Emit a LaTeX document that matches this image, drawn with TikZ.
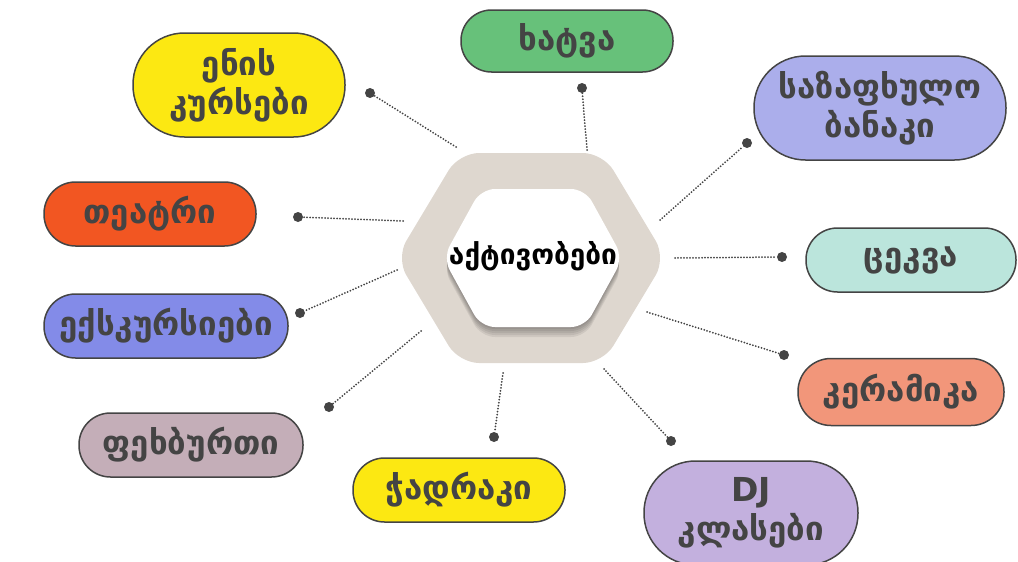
\documentclass[tikz,border=0pt]{standalone}
\usepackage{fontspec}
\setmainfont{DejaVu Sans}
\definecolor{ink}{RGB}{68,68,68}
\definecolor{hexsand}{RGB}{222,215,207}
\definecolor{cgreen}{RGB}{103,193,122}
\definecolor{cyellow}{RGB}{252,232,18}
\definecolor{clavender}{RGB}{171,174,235}
\definecolor{corange}{RGB}{242,86,34}
\definecolor{cmint}{RGB}{187,229,220}
\definecolor{cperi}{RGB}{131,139,232}
\definecolor{csalmon}{RGB}{242,150,122}
\definecolor{cmauve}{RGB}{196,174,184}
\definecolor{clilac}{RGB}{195,176,222}

\begin{document}
\begin{tikzpicture}[x=1pt,y=-1pt,
    pill/.style={draw=ink,line width=1.5pt,rounded corners=31.5pt,minimum height=64pt,
        text=ink,font=\bfseries\fontsize{33}{39}\selectfont,align=center,inner sep=0pt},
    tallpill/.style={pill,rounded corners=51.5pt,minimum height=104pt},
    link/.style={ink,line width=2pt,line cap=round,dash pattern=on 0pt off 3pt},
    knob/.style={circle,fill=ink,inner sep=0pt,minimum size=10pt}]
    \useasboundingbox (0,0) rectangle (1018,562);

    % centre hexagon
    \fill[hexsand,rounded corners=20pt] (396,258) -- (459,153) -- (603,153) -- (666,258)
        -- (603,363) -- (459,363) -- cycle;
    \foreach \s in {2,4,6,8,10}
        \fill[black,opacity=.07,rounded corners=14pt,shift={(0,\s)}] (443,258) -- (481,189)
            -- (585,189) -- (623,258) -- (585,327) -- (481,327) -- cycle;
    \fill[white,rounded corners=14pt] (443,258) -- (481,189) -- (585,189) -- (623,258)
        -- (585,327) -- (481,327) -- cycle;
    \node[font=\bfseries\fontsize{28}{32}\selectfont] (act) at (533,256) {აქტივობები};

    % activities
    \node[pill,fill=cgreen,minimum width=212pt,minimum height=62pt,rounded corners=30.5pt] (khatva) at (567,41) {ხატვა};
    \node[tallpill,fill=cyellow,minimum width=212pt] (enis) at (239,85) {ენის\\კურსები};
    \node[tallpill,fill=clavender,minimum width=252pt] (banaki) at (880,108) {საზაფხულო\\ბანაკი};
    \node[pill,fill=corange,minimum width=212pt] (teatri) at (150,214) {თეატრი};
    \node[pill,fill=cmint,minimum width=210pt] (tsekva) at (911,260) {ცეკვა};
    \node[pill,fill=cperi,minimum width=244pt] (ekskursia) at (166,326) {ექსკურსიები};
    \node[pill,fill=csalmon,minimum width=206pt,minimum height=67pt,rounded corners=33pt] (keramika) at (901,392) {კერამიკა};
    \node[pill,fill=cmauve,minimum width=224pt] (pekhburti) at (191,445) {ფეხბურთი};
    \node[pill,fill=cyellow,minimum width=212pt] (chadraki) at (459,490) {ჭადრაკი};
    \node[tallpill,fill=clilac,minimum width=214pt] (dj) at (751,513) {DJ\\კლასები};

    % connectors
    \node[knob] (k1) at (582,88) {};
    \node[knob] (k2) at (370,93) {};
    \node[knob] (k3) at (747,143) {};
    \node[knob] (k4) at (298,217) {};
    \node[knob] (k5) at (782,257) {};
    \node[knob] (k6) at (300,313) {};
    \node[knob] (k7) at (784,355) {};
    \node[knob] (k8) at (329,407) {};
    \node[knob] (k9) at (494,437) {};
    \node[knob] (k10) at (671,441) {};
    \coordinate (e1) at (587,150);
    \coordinate (e2) at (456,147);
    \coordinate (e3) at (660,220);
    \coordinate (e4) at (403,221);
    \coordinate (e5) at (675,258);
    \coordinate (e6) at (397,270);
    \coordinate (e7) at (647,312);
    \coordinate (e8) at (421,331);
    \coordinate (e9) at (503,373);
    \coordinate (e10) at (604,369);
    \foreach \i in {1,...,10}
        \draw[link] (e\i) -- (k\i);
\end{tikzpicture}
\end{document}
